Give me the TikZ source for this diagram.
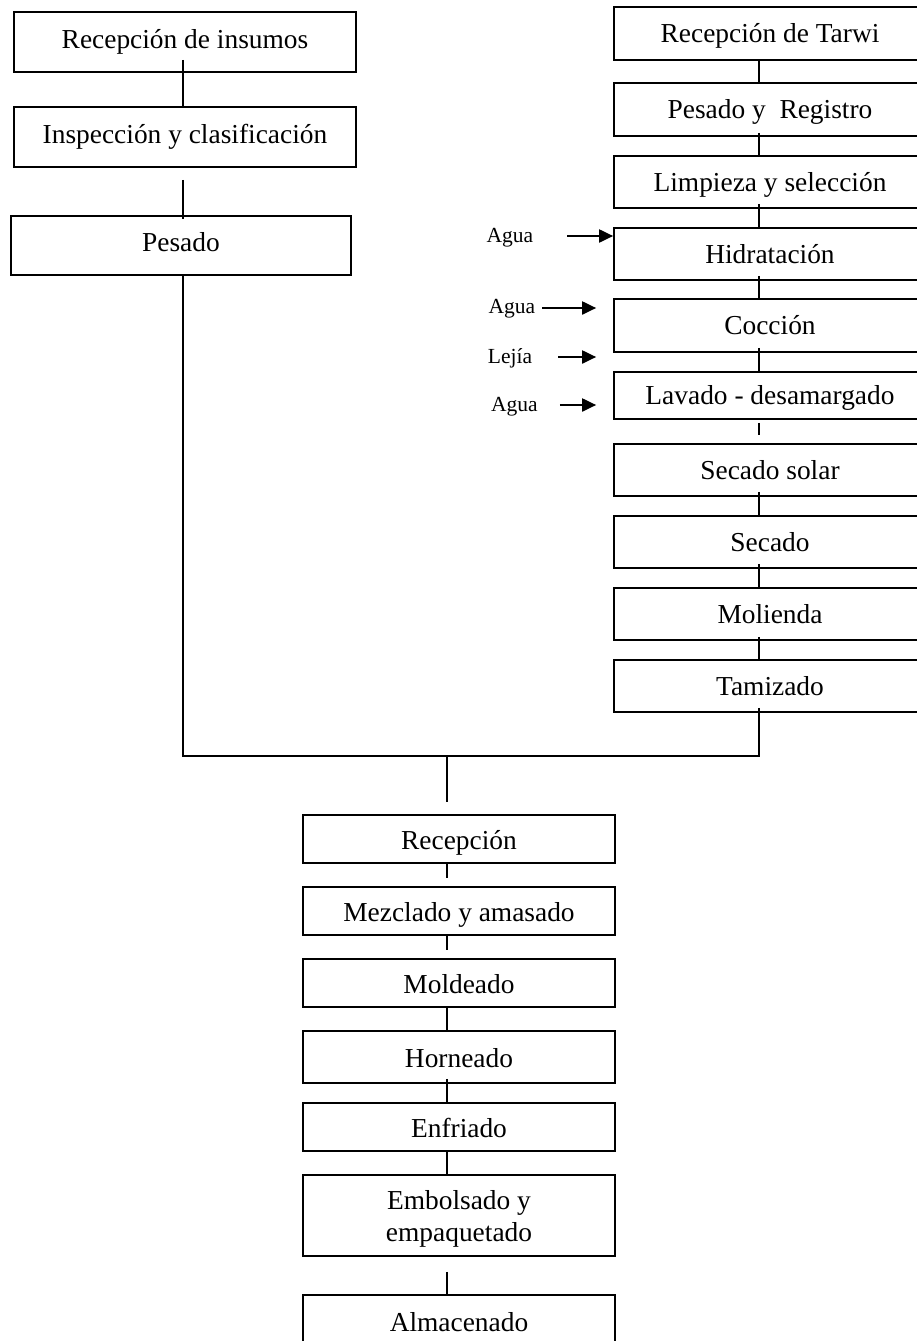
\documentclass[tikz,border=0pt]{standalone}
\usepackage{fontspec}
\setmainfont{Liberation Serif}
\usetikzlibrary{arrows.meta,calc}
\begin{document}
\begin{tikzpicture}[x=1pt,y=-1pt,
  stage/.style={draw, line width=1.7pt, inner sep=0pt, align=center,
    font=\fontsize{27.4}{31.5}\selectfont},
  colL/.style={stage, minimum width=342pt, minimum height=60pt,
    text height=18pt, text depth=6pt},
  colR/.style={stage, minimum width=312pt, text height=21pt, text depth=3pt},
  colB/.style={stage, minimum width=312pt, text height=22pt, text depth=2pt},
  input/.style={inner sep=0pt, anchor=base, font=\fontsize{21.5}{24}\selectfont},
  link/.style={line width=1.5pt},
  feed/.style={line width=2pt, -{Triangle[length=14pt,width=13pt]}}]
\useasboundingbox (0,0) rectangle (917,1341);
\clip (0,0) rectangle (917,1341);

% supplies column
\node[colL] (L1) at (185,42) {Recepción de insumos};
\node[colL] (L2) at (185,137) {Inspección y clasificación};
\node[colL, minimum width=340pt, minimum height=59pt] (L3) at (181,245.5) {Pesado};

% tarwi column
\node[colR, minimum height=53pt] (T1) at (770,33.5) {Recepción de Tarwi};
\node[colR, minimum height=53pt] (T2) at (770,109.5) {Pesado y\ \ Registro};
\node[colR, minimum height=52pt] (T3) at (770,182) {Limpieza y selección};
\node[colR, minimum height=52pt] (T4) at (770,254) {Hidratación};
\node[colR, minimum height=53pt] (T5) at (770,325.5) {Cocción};
\node[colR, minimum height=47pt] (T6) at (770,395.5) {Lavado - desamargado};
\node[colR, minimum height=52pt] (T7) at (770,470) {Secado solar};
\node[colR, minimum height=52pt] (T8) at (770,542) {Secado};
\node[colR, minimum height=52pt] (T9) at (770,614) {Molienda};
\node[colR, minimum height=52pt] (T10) at (770,686) {Tamizado};

% process inputs
\node[input] (a1) at (510,242) {Agua};
\node[input] (a2) at (512,313) {Agua};
\node[input] (a3) at (510,363) {Lejía};
\node[input] (a4) at (514.5,411) {Agua};

% product line
\node[colB, minimum height=48pt] (B1) at (459,839) {Recepción};
\node[colB, minimum height=48pt] (B2) at (459,911) {Mezclado y amasado};
\node[colB, minimum height=48pt] (B3) at (459,983) {Moldeado};
\node[colB, minimum height=52pt] (B4) at (459,1057) {Horneado};
\node[colB, minimum height=48pt] (B5) at (459,1127) {Enfriado};
\node[colB, minimum height=81pt, text height=53pt, text depth=2pt] (B6) at (459,1215.5) {Embolsado y\\empaquetado};
\node[colB, minimum height=52pt] (B7) at (459,1321) {Almacenado};

\coordinate (jn) at (447,756);

% supplies connectors
\draw[link, shorten <=-13pt] ([xshift=-2pt]L1.south) -- ([xshift=-2pt]L2.north);
\draw[link, shorten <=12pt, shorten >=-4pt] ([xshift=-2pt]L2.south) -- ([xshift=2pt]L3.north);
\draw[link] ([xshift=2pt]L3.south) |- (jn);

% tarwi connectors
\draw[link] ([xshift=-11pt]T1.south) -- ([xshift=-11pt]T2.north);
\draw[link, shorten <=-4pt] ([xshift=-11pt]T2.south) -- ([xshift=-11pt]T3.north);
\draw[link, shorten <=-5pt] ([xshift=-11pt]T3.south) -- ([xshift=-11pt]T4.north);
\draw[link, shorten <=-5pt] ([xshift=-11pt]T4.south) -- ([xshift=-11pt]T5.north);
\draw[link, shorten <=-5pt] ([xshift=-11pt]T5.south) -- ([xshift=-11pt]T6.north);
\draw[link, shorten <=3pt, shorten >=8pt] ([xshift=-11pt]T6.south) -- ([xshift=-11pt]T7.north);
\draw[link, shorten <=-5pt] ([xshift=-11pt]T7.south) -- ([xshift=-11pt]T8.north);
\draw[link, shorten <=-5pt] ([xshift=-11pt]T8.south) -- ([xshift=-11pt]T9.north);
\draw[link, shorten <=-4pt] ([xshift=-11pt]T9.south) -- ([xshift=-11pt]T10.north);
\draw[link] ([xshift=-11pt,yshift=5pt]T10.south) |- (jn);

% input arrows
\draw[feed] ([xshift=34pt]a1.east |- 0,236) -- (T4.west |- 0,236);
\draw[feed] ([xshift=7pt]a2.east |- 0,308) -- ($(T5.west |- 0,308)+(-17,0)$);
\draw[feed] ([xshift=26pt]a3.east |- 0,357) -- ($(T5.west |- 0,357)+(-17,0)$);
\draw[feed] ([xshift=22pt]a4.east |- 0,405) -- ($(T6.west |- 0,405)+(-17,0)$);

% product connectors
\draw[link, shorten >=12pt] (jn) -- ([xshift=-12pt]B1.north);
\draw[link, shorten >=8pt] ([xshift=-12pt]B1.south) -- ([xshift=-12pt]B2.north);
\draw[link, shorten >=8pt] ([xshift=-12pt]B2.south) -- ([xshift=-12pt]B3.north);
\draw[link] ([xshift=-12pt]B3.south) -- ([xshift=-12pt]B4.north);
\draw[link, shorten <=-5pt] ([xshift=-12pt]B4.south) -- ([xshift=-12pt]B5.north);
\draw[link] ([xshift=-12pt]B5.south) -- ([xshift=-12pt]B6.north);
\draw[link, shorten <=15pt] ([xshift=-12pt]B6.south) -- ([xshift=-12pt]B7.north);
\end{tikzpicture}
\end{document}
